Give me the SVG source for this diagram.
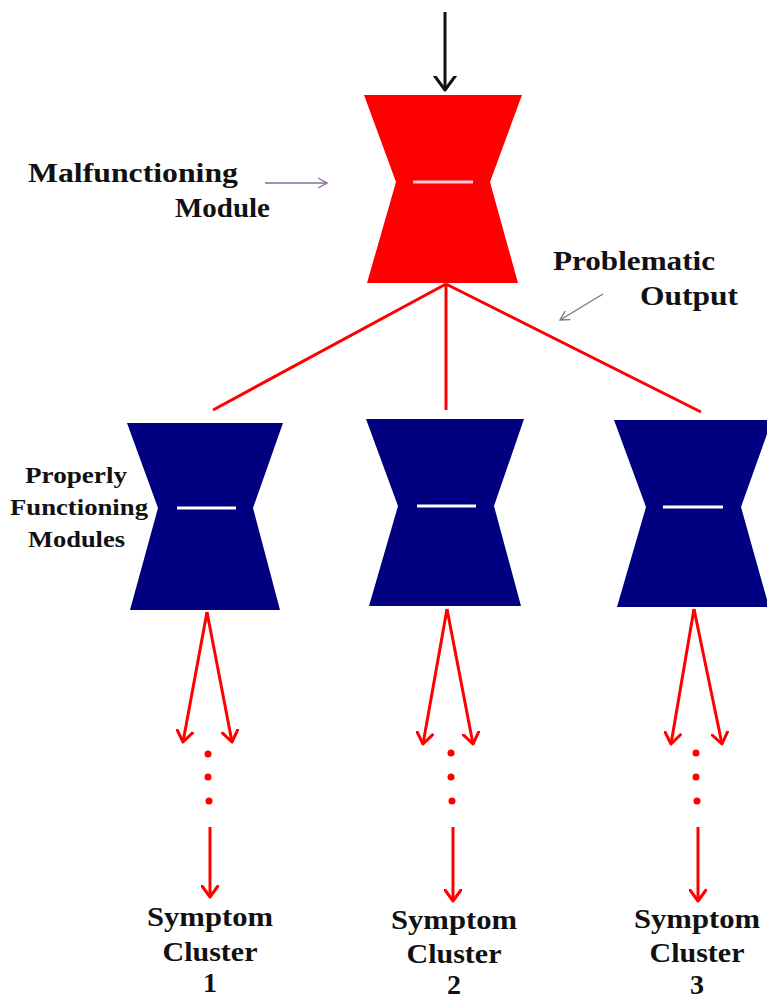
<svg xmlns="http://www.w3.org/2000/svg" width="767" height="1000" viewBox="0 0 767 1000">
<style>
.lbl{font-family:"Liberation Serif","Times New Roman",serif;font-weight:bold;fill:#111;}
.red{stroke:#ff0000;stroke-width:3;fill:none;}
.blue{fill:#000080;}
.bar{stroke:#ffffff;stroke-width:3;}
.dot{fill:#ff0000;}
</style>
<defs>
<marker id="vr" viewBox="-12 -9 14 18" markerWidth="14" markerHeight="18" refX="0" refY="0" orient="auto" markerUnits="userSpaceOnUse">
<polyline points="-11,-8 0,0 -11,8" fill="none" stroke="#ff0000" stroke-width="3" stroke-linecap="round" stroke-linejoin="round"/>
</marker>
<marker id="vk" viewBox="-14 -12 16 24" markerWidth="16" markerHeight="24" refX="0" refY="0" orient="auto" markerUnits="userSpaceOnUse">
<polyline points="-15,-11 0,0 -15,11" fill="none" stroke="#111" stroke-width="3" stroke-linecap="round" stroke-linejoin="round"/>
</marker>
<marker id="vp" viewBox="-10 -6 12 12" markerWidth="12" markerHeight="12" refX="0" refY="0" orient="auto" markerUnits="userSpaceOnUse">
<polyline points="-9,-5 0,0 -9,5" fill="none" stroke="#8a6c96" stroke-width="1.3"/>
</marker>
<marker id="vg" viewBox="-10 -6 12 12" markerWidth="12" markerHeight="12" refX="0" refY="0" orient="auto" markerUnits="userSpaceOnUse">
<polyline points="-9,-5 0,0 -9,5" fill="none" stroke="#777" stroke-width="1.3"/>
</marker>
</defs>
<rect width="767" height="1000" fill="#ffffff"/>

<g id="malfunctioning-module">
<polygon points="364,95 522,95 490,182 518,283 367,283 396,182" fill="#ff0000"/>
<line x1="413" y1="182" x2="473" y2="182" stroke="#f2c8dc" stroke-width="3"/>
</g>
<g id="module-1">
<polygon class="blue" points="127,423 283,423 253,508 280,610 130,610 158,508"/>
<line class="bar" x1="177" y1="508" x2="236" y2="508"/>
</g>
<g id="module-2">
<polygon class="blue" points="366,419 524,419 494,506 521,606 369,606 398,506"/>
<line class="bar" x1="417" y1="506" x2="476" y2="506"/>
</g>
<g id="module-3">
<polygon class="blue" points="614,420 772,420 741,507 769,607 617,607 646,507"/>
<line class="bar" x1="663" y1="507" x2="723" y2="507"/>
</g>

<g id="connectors">
<line x1="445" y1="12" x2="445" y2="90" stroke="#111" stroke-width="3" marker-end="url(#vk)"/>
<line class="red" x1="446" y1="284" x2="213" y2="410"/>
<line class="red" x1="446" y1="284" x2="446" y2="410"/>
<line class="red" x1="446" y1="284" x2="701" y2="412"/>
<line x1="265" y1="183" x2="327" y2="183" stroke="#8a6c96" stroke-width="1.3" marker-end="url(#vp)"/>
<line x1="603" y1="294" x2="560" y2="320" stroke="#777" stroke-width="1.3" marker-end="url(#vg)"/>

<line class="red" x1="207" y1="612" x2="183" y2="742" marker-end="url(#vr)"/>
<line class="red" x1="207" y1="612" x2="232" y2="742" marker-end="url(#vr)"/>
<circle class="dot" cx="208" cy="754" r="3.5"/>
<circle class="dot" cx="208" cy="777" r="3.5"/>
<circle class="dot" cx="209" cy="801" r="3.5"/>
<line class="red" x1="210" y1="827" x2="210" y2="897" marker-end="url(#vr)"/>

<line class="red" x1="447" y1="609" x2="423" y2="744" marker-end="url(#vr)"/>
<line class="red" x1="447" y1="609" x2="473" y2="744" marker-end="url(#vr)"/>
<circle class="dot" cx="451" cy="753" r="3.5"/>
<circle class="dot" cx="451" cy="777" r="3.5"/>
<circle class="dot" cx="452" cy="801" r="3.5"/>
<line class="red" x1="453" y1="827" x2="453" y2="901" marker-end="url(#vr)"/>

<line class="red" x1="694" y1="609" x2="671" y2="744" marker-end="url(#vr)"/>
<line class="red" x1="694" y1="609" x2="722" y2="744" marker-end="url(#vr)"/>
<circle class="dot" cx="696" cy="753" r="3.5"/>
<circle class="dot" cx="696" cy="777" r="3.5"/>
<circle class="dot" cx="697" cy="801" r="3.5"/>
<line class="red" x1="698" y1="827" x2="698" y2="901" marker-end="url(#vr)"/>
</g>

<g id="label-malfunctioning">
<text class="lbl" x="28" y="182" font-size="27" textLength="210" lengthAdjust="spacingAndGlyphs">Malfunctioning</text>
<text class="lbl" x="175" y="217" font-size="27" textLength="95" lengthAdjust="spacingAndGlyphs">Module</text>
</g>
<g id="label-problematic">
<text class="lbl" x="553" y="270" font-size="27" textLength="162" lengthAdjust="spacingAndGlyphs">Problematic</text>
<text class="lbl" x="640" y="305" font-size="27" textLength="98" lengthAdjust="spacingAndGlyphs">Output</text>
</g>
<g id="label-properly">
<text class="lbl" x="25" y="483" font-size="23" textLength="102" lengthAdjust="spacingAndGlyphs">Properly</text>
<text class="lbl" x="10" y="515" font-size="23" textLength="138" lengthAdjust="spacingAndGlyphs">Functioning</text>
<text class="lbl" x="28" y="547" font-size="23" textLength="97" lengthAdjust="spacingAndGlyphs">Modules</text>
</g>
<g id="symptom-1" text-anchor="middle">
<text class="lbl" x="210" y="926" font-size="28" textLength="126" lengthAdjust="spacingAndGlyphs">Symptom</text>
<text class="lbl" x="210" y="961" font-size="28" textLength="95" lengthAdjust="spacingAndGlyphs">Cluster</text>
<text class="lbl" x="210" y="992" font-size="28">1</text>
</g>
<g id="symptom-2" text-anchor="middle">
<text class="lbl" x="454" y="929" font-size="28" textLength="126" lengthAdjust="spacingAndGlyphs">Symptom</text>
<text class="lbl" x="454" y="963" font-size="28" textLength="95" lengthAdjust="spacingAndGlyphs">Cluster</text>
<text class="lbl" x="454" y="994" font-size="28">2</text>
</g>
<g id="symptom-3" text-anchor="middle">
<text class="lbl" x="697" y="928" font-size="28" textLength="126" lengthAdjust="spacingAndGlyphs">Symptom</text>
<text class="lbl" x="697" y="962" font-size="28" textLength="95" lengthAdjust="spacingAndGlyphs">Cluster</text>
<text class="lbl" x="697" y="994" font-size="28">3</text>
</g>
</svg>
